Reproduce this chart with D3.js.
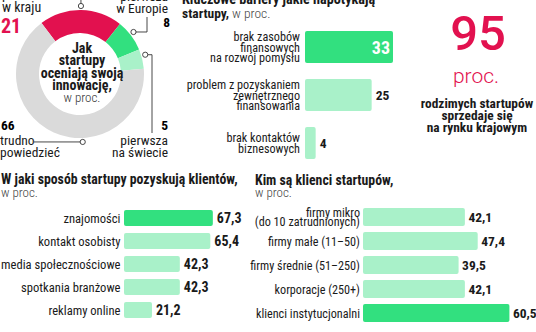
<!DOCTYPE html>
<html><head><meta charset="utf-8">
<script src="https://cdn.jsdelivr.net/npm/d3@7"></script>
<style>
html,body{margin:0;padding:0;background:#fff;}
svg{display:block;font-family:"Roboto Condensed","Liberation Sans Narrow","DejaVu Sans Condensed",Roboto,sans-serif;}
</style></head>
<body>
<svg id="chart" width="536" height="332"></svg>
<script>
// ---- data ----
const donutLabels = ["pierwsza w kraju", "pierwsza w Europie", "pierwsza na świecie", "trudno powiedzieć"];
const donutValues = [21, 8, 5, 66];

const barrierLabels = [["brak zasobów", "finansowych", "na rozwój pomysłu"], ["problem z pozyskaniem", "zewnętrznego", "finansowania"], ["brak kontaktów", "biznesowych"]];
const barrierValues = [33, 25, 4];

const channelLabels = ["znajomości", "kontakt osobisty", "media społecznościowe", "spotkania branżowe", "reklamy online"];
const channelValues = [67.3, 65.4, 42.3, 42.3, 21.2];

const clientLabels = [["firmy mikro", "(do 10 zatrudnionych)"], ["firmy małe (11–50)"], ["firmy średnie (51–250)"], ["korporacje (250+)"], ["klienci instytucjonalni"]];
const clientValues = [42.1, 47.4, 39.5, 42.1, 60.5];

const bigNumber = "95";

// ---- styles ----
const RED = "#e2114f", DARK = "#32e07f", LIGHT = "#a9f1c9", GRAY = "#dadada", INK = "#1a1a1a";
const fmt = v => String(v).replace(".", ",");

const svg = d3.select("#chart");

// ---- donut ----
const cx = 80, cy = 74, rOut = 64, rIn = 41;
const donutColors = [RED, DARK, LIGHT, GRAY];
const pie = d3.pie().sort(null).startAngle(-37 * Math.PI / 180).endAngle(323 * Math.PI / 180);
const arcs = pie(donutValues);
const arc = d3.arc().innerRadius(rIn).outerRadius(rOut);
const gD = svg.append("g").attr("transform", `translate(${cx},${cy})`);
gD.selectAll("path").data(arcs).join("path").attr("d", arc).attr("fill", (d, i) => donutColors[i]);

const polar = (a, r) => [r * Math.sin(a), -r * Math.cos(a)];
const mid = d => (d.startAngle + d.endAngle) / 2;
const rM = rOut + 4;
const markerAngles = [mid(arcs[0]), mid(arcs[1]) - 0.02, mid(arcs[2]) - 0.05, Math.PI - 0.04];
const mk = markerAngles.map(a => polar(a, rM));
const lineStyle = s => s.attr("fill", "none").attr("stroke", "#333").attr("stroke-width", 0.9);
lineStyle(gD.append("path").attr("d", `M${mk[0][0]},${mk[0][1]}V${-cy - 2}`));
lineStyle(gD.append("path").attr("d", `M${mk[1][0]},${mk[1][1]}H${147 - cx}V${17 - cy}`));
lineStyle(gD.append("path").attr("d", `M${mk[2][0]},${mk[2][1]}H${152 - cx}V${133 - cy}`));
lineStyle(gD.append("path").attr("d", `M${mk[3][0]},${mk[3][1]}H${34 - cx}`));
gD.selectAll("circle.mk").data(mk).join("circle").attr("class", "mk")
  .attr("cx", d => d[0]).attr("cy", d => d[1]).attr("r", 2.6)
  .attr("fill", "#fff").attr("stroke", "#333").attr("stroke-width", 0.9);

function lines(g, arr, x, y0, dy, anchor, size, weight, color) {
  arr.forEach((t, i) => g.append("text").attr("x", x).attr("y", y0 + i * dy)
    .attr("text-anchor", anchor).attr("font-size", size).attr("font-weight", weight)
    .attr("fill", color || INK).text(t));
}
const lab = donutLabels.map(s => { const p = s.split(" "); return [p[0], p.slice(1).join(" ")]; });
lines(svg, lab[0], 2, -1, 12.5, "start", 14, 400);
svg.append("text").attr("x", 1).attr("y", 33).attr("font-size", 20).attr("font-weight", 700).attr("fill", RED).text(donutValues[0]);
lines(svg, lab[1], 168, 0.5, 12.5, "end", 13.5, 400);
svg.append("text").attr("x", 170).attr("y", 27).attr("text-anchor", "end").attr("font-size", 13.5).attr("font-weight", 700).text(donutValues[1]);
svg.append("text").attr("x", 168).attr("y", 130).attr("text-anchor", "end").attr("font-size", 13.5).attr("font-weight", 700).text(donutValues[2]);
lines(svg, lab[2], 168, 145, 12, "end", 13.5, 400);
svg.append("text").attr("x", 1).attr("y", 130).attr("font-size", 13.5).attr("font-weight", 700).text(donutValues[3]);
lines(svg, lab[3], 0, 145, 12, "start", 13.5, 400);
lines(svg, ["Jak", "startupy", "oceniają swoją", "innowację,"], 82, 53, 12.3, "middle", 14, 700);
svg.append("text").attr("x", 82).attr("y", 102).attr("text-anchor", "middle").attr("font-size", 13).attr("font-weight", 300).attr("fill", "#333").text("w proc.");

// ---- barriers ----
svg.append("text").attr("x", 182).attr("y", 4).attr("font-size", 14.2).attr("font-weight", 700).attr("fill", INK).text("Kluczowe bariery jakie napotykają");
const t2 = svg.append("text").attr("x", 182).attr("y", 18).attr("font-size", 13.5).attr("fill", INK);
t2.append("tspan").attr("font-weight", 700).text("startupy,");
t2.append("tspan").attr("font-weight", 300).attr("fill", "#444").text(" w proc.");

const bx = d3.scaleLinear().domain([0, d3.max(barrierValues)]).range([305, 393]);
const by = d3.scaleBand().domain(d3.range(barrierValues.length)).range([23, 167]).paddingInner(1 / 3).paddingOuter(1 / 6);
const bMax = d3.max(barrierValues);
svg.append("g").selectAll("rect").data(barrierValues).join("rect")
  .attr("x", bx(0)).attr("y", (d, i) => by(i)).attr("width", d => bx(d) - bx(0)).attr("height", by.bandwidth())
  .attr("rx", 2).attr("fill", d => d === bMax ? DARK : LIGHT);
barrierValues.forEach((v, i) => {
  const ls = barrierLabels[i];
  const c = by(i) + by.bandwidth() / 2;
  lines(svg, ls, 300, c - (ls.length - 1) * 5.1 + 4.5, 10.2, "end", 12.2, 400);
  if (v === bMax) {
    svg.append("text").attr("x", bx(v) - 3).attr("y", c + 6.5).attr("text-anchor", "end")
      .attr("font-size", 18).attr("font-weight", 700).attr("fill", "#fff").text(fmt(v));
  } else {
    svg.append("text").attr("x", bx(v) + 4).attr("y", c + 4.5)
      .attr("font-size", 13.5).attr("font-weight", 700).attr("fill", INK).text(fmt(v));
  }
});

// ---- 95 proc. ----
svg.append("text").attr("x", 478).attr("y", 50).attr("text-anchor", "middle").attr("font-family", "Roboto, sans-serif").attr("font-size", 49).attr("font-weight", 500).attr("fill", RED).text(bigNumber);
svg.append("text").attr("x", 476).attr("y", 83).attr("text-anchor", "middle").attr("font-family", "Roboto, sans-serif").attr("font-size", 21).attr("font-weight", 300).attr("fill", RED).text("proc.");
lines(svg, ["rodzimych startupów", "sprzedaje się", "na rynku krajowym"], 477, 108, 12, "middle", 13.4, 700);

// ---- channels ----
svg.append("text").attr("x", 1).attr("y", 184).attr("font-size", 13.8).attr("font-weight", 700).attr("fill", INK).text("W jaki sposób startupy pozyskują klientów,");
svg.append("text").attr("x", 1).attr("y", 197).attr("font-size", 13).attr("font-weight", 300).attr("fill", "#444").text("w proc.");
const cxs = d3.scaleLinear().domain([0, d3.max(channelValues)]).range([124, 124 + 1.32 * d3.max(channelValues)]);
const cys = d3.scaleBand().domain(d3.range(channelValues.length)).range([206.5, 321.5]).paddingInner(7 / 23).paddingOuter(3.5 / 23);
const cMax = d3.max(channelValues);
svg.append("g").selectAll("rect").data(channelValues).join("rect")
  .attr("x", cxs(0)).attr("y", (d, i) => cys(i)).attr("width", d => cxs(d) - cxs(0)).attr("height", cys.bandwidth())
  .attr("rx", 2).attr("fill", d => d === cMax ? DARK : LIGHT);
channelValues.forEach((v, i) => {
  const c = cys(i) + cys.bandwidth() / 2;
  svg.append("text").attr("x", 120.5).attr("y", c + 4.5).attr("text-anchor", "end").attr("font-size", 12.6).attr("fill", INK).text(channelLabels[i]);
  svg.append("text").attr("x", cxs(v) + 4).attr("y", c + 5).attr("font-size", 14).attr("font-weight", 700).attr("fill", INK).text(fmt(v));
});

// ---- clients ----
svg.append("text").attr("x", 255).attr("y", 185).attr("font-size", 13.8).attr("font-weight", 700).attr("fill", INK).text("Kim są klienci startupów,");
svg.append("text").attr("x", 255).attr("y", 197).attr("font-size", 13).attr("font-weight", 300).attr("fill", "#444").text("w proc.");
const kx = d3.scaleLinear().domain([0, d3.max(clientValues)]).range([363, 363 + 2.42 * d3.max(clientValues)]);
const ky = d3.scaleBand().domain(d3.range(clientValues.length)).range([205, 325]).paddingInner(0.25).paddingOuter(0.125);
const kMax = d3.max(clientValues);
svg.append("g").selectAll("rect").data(clientValues).join("rect")
  .attr("x", kx(0)).attr("y", (d, i) => ky(i)).attr("width", d => kx(d) - kx(0)).attr("height", ky.bandwidth())
  .attr("rx", 2).attr("fill", d => d === kMax ? DARK : LIGHT);
clientValues.forEach((v, i) => {
  const c = ky(i) + ky.bandwidth() / 2;
  const ls = clientLabels[i];
  lines(svg, ls, 360, c - (ls.length - 1) * 4.75 + 4.5, 9.5, "end", 12.2, 400);
  svg.append("text").attr("x", kx(v) + 3.5).attr("y", c + 5).attr("font-size", 13.5).attr("font-weight", 700).attr("fill", INK).text(fmt(v));
});
</script>
</body></html>
